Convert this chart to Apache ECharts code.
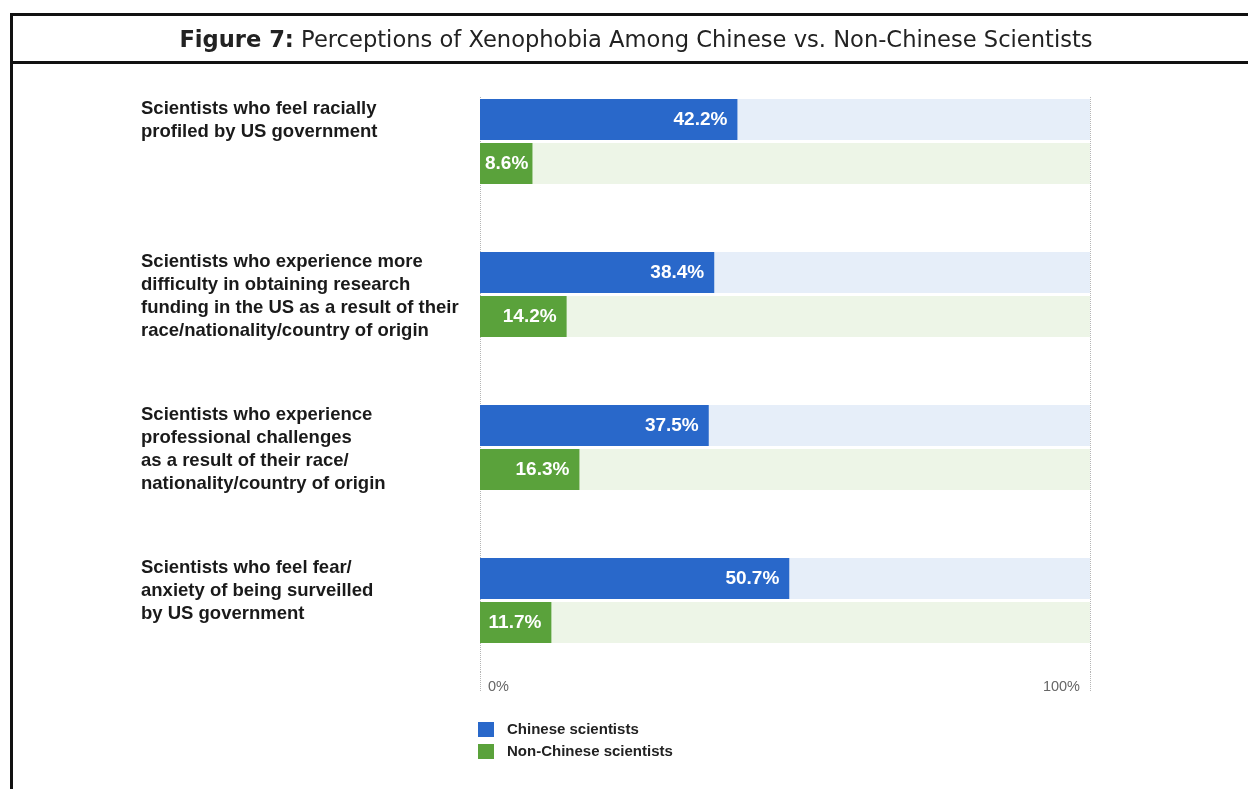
<!DOCTYPE html>
<html>
<head>
<meta charset="utf-8">
<script src="https://cdn.jsdelivr.net/npm/echarts@6/dist/echarts.min.js"></script>
<style>
  html, body { margin: 0; padding: 0; background: #fff; }
  #chart { width: 1248px; height: 789px; }
</style>
</head>
<body>
<div id="chart"></div>
<script>
// Survey questions (y categories, top to bottom)
const categories = [
  'Scientists who feel racially\nprofiled by US government',
  'Scientists who experience more\ndifficulty in obtaining research\nfunding in the US as a result of their\nrace/nationality/country of origin',
  'Scientists who experience\nprofessional challenges\nas a result of their race/\nnationality/country of origin',
  'Scientists who feel fear/\nanxiety of being surveilled\nby US government'
];

// Share of respondents (%)
const chineseScientists = [42.2, 38.4, 37.5, 50.7];
const nonChineseScientists = [8.6, 14.2, 16.3, 11.7];

const seriesNames = ['Chinese scientists', 'Non-Chinese scientists'];
const axisTicks = [0, 100];

const titleBold = 'Figure 7:';
const titleText = 'Perceptions of Xenophobia Among Chinese vs. Non-Chinese Scientists';

const BLUE = '#2968ca';
const GREEN = '#5aa23b';
const SANS = 'Liberation Sans, Arial, sans-serif';

const chart = echarts.init(document.getElementById('chart'), null, { renderer: 'canvas' });

// short bars keep their value label at the start of the bar
const withLabelSide = (vals) => vals.map(v => v < 10
  ? { value: v, label: { position: 'insideLeft', distance: 5 } }
  : v);

const valueLabel = {
  show: true,
  position: 'insideRight',
  distance: 10,
  color: '#fff',
  fontSize: 19,
  fontWeight: 'bold',
  fontFamily: SANS,
  formatter: p => p.value + '%'
};

chart.setOption({
  animation: false,
  backgroundColor: '#fff',
  title: {
    text: '{b|' + titleBold + '} ' + titleText,
    left: 631,
    top: 25,
    textAlign: 'center',
    textStyle: {
      fontFamily: 'DejaVu Sans, sans-serif',
      fontSize: 22.6,
      fontWeight: 'normal',
      color: '#222',
      rich: {
        b: { fontFamily: 'DejaVu Sans, sans-serif', fontSize: 22.6, fontWeight: 'bold', color: '#222' }
      }
    }
  },
  graphic: [
    { type: 'line', shape: { x1: 10, y1: 14.5, x2: 1248, y2: 14.5 }, style: { stroke: '#111', lineWidth: 3 } },
    { type: 'line', shape: { x1: 10, y1: 62.5, x2: 1248, y2: 62.5 }, style: { stroke: '#111', lineWidth: 3 } },
    { type: 'line', shape: { x1: 11.5, y1: 13, x2: 11.5, y2: 789 }, style: { stroke: '#111', lineWidth: 3 } }
  ],
  legend: {
    data: seriesNames,
    orient: 'vertical',
    left: 478,
    top: 722,
    padding: 0,
    icon: 'rect',
    itemWidth: 16,
    itemHeight: 15,
    itemGap: 7,
    textStyle: {
      fontFamily: SANS,
      fontSize: 15,
      fontWeight: 'bold',
      color: '#222',
      padding: [0, 0, 0, 8]
    }
  },
  grid: [
    { left: 480, width: 610, top: 65, height: 612 },
    { left: 480, width: 610, top: 97, height: 575 }
  ],
  xAxis: [
    { gridIndex: 0, type: 'value', min: 0, max: 100, show: false },
    {
      gridIndex: 1, type: 'value', min: axisTicks[0], max: axisTicks[1], interval: 100,
      axisLine: { show: false },
      axisTick: { show: true, length: 20, inside: false, lineStyle: { color: '#b5b5b5', type: 'dotted', width: 1 } },
      splitLine: { show: true, lineStyle: { color: '#b5b5b5', type: 'dotted', width: 1 } },
      axisLabel: {
        margin: 7,
        formatter: '{value}%',
        alignMinLabel: 'left',
        alignMaxLabel: 'right',
        padding: [0, 10, 0, 8],
        fontFamily: SANS,
        fontSize: 14.5,
        color: '#666'
      }
    }
  ],
  yAxis: [
    {
      gridIndex: 0, type: 'category', data: categories, inverse: true,
      axisLine: { show: false }, axisTick: { show: false }, splitLine: { show: false },
      axisLabel: {
        align: 'left',
        verticalAlign: 'top',
        margin: 339,
        padding: [-44, 0, 0, 0],
        lineHeight: 23,
        fontFamily: SANS,
        fontSize: 18.5,
        fontWeight: 'bold',
        color: '#1a1a1a'
      }
    },
    { gridIndex: 1, type: 'value', show: false, min: 0, max: 1 }
  ],
  series: [
    {
      name: seriesNames[0], type: 'bar', xAxisIndex: 0, yAxisIndex: 0,
      data: withLabelSide(chineseScientists),
      barWidth: 41, barGap: '7%',
      itemStyle: { color: BLUE },
      showBackground: true,
      backgroundStyle: { color: '#e6eef9' },
      label: valueLabel
    },
    {
      name: seriesNames[1], type: 'bar', xAxisIndex: 0, yAxisIndex: 0,
      data: withLabelSide(nonChineseScientists),
      barWidth: 41, barGap: '7%',
      itemStyle: { color: GREEN },
      showBackground: true,
      backgroundStyle: { color: '#edf5e7' },
      label: valueLabel
    },
    { type: 'scatter', xAxisIndex: 1, yAxisIndex: 1, data: [], silent: true }
  ]
});
</script>
</body>
</html>
